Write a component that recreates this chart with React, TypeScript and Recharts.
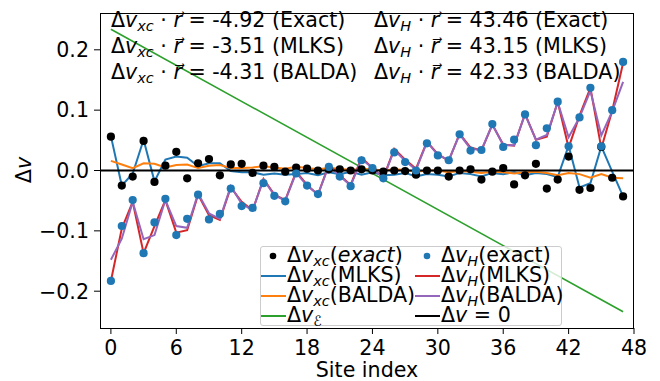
import React from "react";
import {
  ComposedChart,
  Line,
  Scatter,
  XAxis,
  YAxis,
  ReferenceLine,
} from "recharts";

// site index 0..47
const sites = Array.from({ length: 48 }, (_, i) => i);

const xcExact = [
  0.056, -0.025, -0.01, 0.049, -0.019, 0.008, 0.031, -0.013, 0.012, 0.019,
  -0.008, 0.01, 0.011, -0.004, 0.008, 0.006, -0.002, 0.005, 0.003, 0.0,
  0.002, 0.002, 0.0, 0.002, 0.0, -0.002, 0.0, -0.001, -0.007, 0.0,
  0.0, -0.01, 0.0, 0.002, -0.015, -0.002, 0.004, -0.023, -0.008, 0.011,
  -0.03, -0.015, 0.023, -0.032, -0.029, 0.039, -0.012, -0.043,
];

const hExact = [
  -0.183, -0.092, -0.049, -0.137, -0.086, -0.047, -0.107, -0.08, -0.04, -0.081,
  -0.072, -0.03, -0.059, -0.062, -0.021, -0.042, -0.051, -0.005, -0.025, -0.039,
  0.006, -0.01, -0.026, 0.017, 0.004, -0.013, 0.03, 0.014, 0.0, 0.045,
  0.025, 0.017, 0.06, 0.033, 0.034, 0.077, 0.039, 0.051, 0.093, 0.042,
  0.07, 0.114, 0.04, 0.088, 0.137, 0.04, 0.1, 0.18,
];

const xcMlks = [
  0.057, -0.025, -0.005, 0.051, -0.018, 0.018, 0.023, 0.021, 0.007, 0.012,
  0.012, -0.001, -0.003, -0.003, -0.007, -0.005, -0.007, -0.006, -0.004, -0.008,
  -0.003, -0.006, -0.002, -0.007, -0.003, -0.008, -0.007, -0.004, -0.01, -0.006,
  -0.007, -0.01, -0.004, -0.006, -0.01, -0.004, -0.006, -0.003, -0.008, -0.004,
  -0.006, -0.011, 0.041, -0.028, -0.021, 0.04, -0.002, -0.043,
];

const xcBalda = [
  0.016, 0.01, 0.004, 0.012, 0.011, 0.005, 0.009, 0.01, 0.004, 0.008,
  0.009, 0.004, 0.004, 0.005, 0.007, 0.005, 0.003, 0.006, 0.004, 0.002,
  0.004, 0.003, 0.001, 0.003, 0.002, 0.0, 0.002, 0.001, -0.002, 0.0,
  0.0, -0.003, -0.001, -0.002, -0.004, -0.002, -0.003, -0.005, -0.003, -0.002,
  -0.004, -0.008, -0.004, -0.006, -0.012, -0.006, -0.012, -0.013,
];

const hMlks = [
  -0.183, -0.096, -0.052, -0.137, -0.092, -0.049, -0.103, -0.099, -0.04, -0.074,
  -0.082, -0.028, -0.052, -0.066, -0.014, -0.04, -0.049, -0.002, -0.024, -0.04,
  0.01, -0.008, -0.024, 0.021, 0.004, -0.012, 0.036, 0.018, 0.003, 0.048,
  0.027, 0.016, 0.061, 0.038, 0.033, 0.076, 0.043, 0.041, 0.094, 0.051,
  0.056, 0.114, 0.038, 0.091, 0.137, 0.037, 0.099, 0.178,
];

const hBalda = [
  -0.148, -0.113, -0.052, -0.114, -0.107, -0.049, -0.092, -0.095, -0.038, -0.071,
  -0.08, -0.026, -0.055, -0.066, -0.015, -0.041, -0.05, -0.004, -0.025, -0.04,
  0.008, -0.009, -0.025, 0.019, 0.004, -0.013, 0.034, 0.016, 0.001, 0.047,
  0.026, 0.017, 0.06, 0.036, 0.034, 0.076, 0.042, 0.042, 0.093, 0.051,
  0.059, 0.113, 0.055, 0.088, 0.132, 0.058, 0.098, 0.147,
];

// straight field line: only the two ends are plotted
const epsEnds = { 0: 0.234, 47: -0.234 };

const xTicks = [0, 6, 12, 18, 24, 30, 36, 42, 48];
const yTicks = [-0.2, -0.1, 0, 0.1, 0.2];

const C = {
  blue: "#1f77b4",
  orange: "#ff7f0e",
  green: "#2ca02c",
  red: "#d62728",
  purple: "#9467bd",
};

const data = sites.map((s, i) => ({
  site: s,
  xcExact: xcExact[i],
  hExact: hExact[i],
  xcMlks: xcMlks[i],
  xcBalda: xcBalda[i],
  hMlks: hMlks[i],
  hBalda: hBalda[i],
  eps: epsEnds[s] ?? null,
}));

const FONT = "'DejaVu Sans', sans-serif";
const FS = 20.6;

const Sub = ({ children }) => (
  <span
    style={{
      fontSize: "0.7em",
      verticalAlign: "-0.3em",
      lineHeight: 0,
      fontStyle: "italic",
    }}
  >
    {children}
  </span>
);

const Dv = ({ sub }) => (
  <>
    Δ<i>v</i>
    {sub && <Sub>{sub}</Sub>}
  </>
);

const Vec = () => (
  <>
    {" · "}
    <i>r{"\u20D7"}</i>
  </>
);

const annotLeft = ["= -4.92 (Exact)", "= -3.51 (MLKS)", "= -4.31 (BALDA)"];
const annotRight = ["= 43.46 (Exact)", "= 43.15 (MLKS)", "= 42.33 (BALDA)"];

const legendItems = [
  { col: 0, row: 0, kind: "dot", color: "#000", label: <><Dv sub="xc" />(<i>exact</i>)</> },
  { col: 0, row: 1, kind: "line", color: C.blue, label: <><Dv sub="xc" />(MLKS)</> },
  { col: 0, row: 2, kind: "line", color: C.orange, label: <><Dv sub="xc" />(BALDA)</> },
  { col: 0, row: 3, kind: "line", color: C.green, label: <Dv sub={"\u2130"} /> },
  { col: 1, row: 0, kind: "dot", color: C.blue, label: <><Dv sub="H" />(exact)</> },
  { col: 1, row: 1, kind: "line", color: C.red, label: <><Dv sub="H" />(MLKS)</> },
  { col: 1, row: 2, kind: "line", color: C.purple, label: <><Dv sub="H" />(BALDA)</> },
  { col: 1, row: 3, kind: "line", color: "#000", label: <><Dv /> = 0</> },
];

const colX = [261, 415];
const rowY = [255, 275, 295, 315];

const dotShape = (color) => (p) =>
  p.cx == null ? null : <circle cx={p.cx} cy={p.cy} r={4.1} fill={color} />;

const fmtY = (v) => (v < 0 ? "\u2212" : "") + Math.abs(v).toFixed(1);

export default function App() {
  return (
    <div
      style={{
        position: "relative",
        width: 660,
        height: 381,
        fontFamily: FONT,
        fontSize: FS,
        color: "#000",
        background: "#fff",
        overflow: "hidden",
      }}
    >
      <style>{"body{margin:0}"}</style>
      <ComposedChart
        width={660}
        height={381}
        data={data}
        margin={{ top: 13, right: 26, bottom: 0, left: 0 }}
      >
        <XAxis
          dataKey="site"
          type="number"
          domain={[-1, 48]}
          ticks={xTicks}
          axisLine={false}
          tickSize={6}
          tickMargin={6}
          height={53}
          tickLine={{ stroke: "#000" }}
          tick={{ fill: "#000", fontSize: FS, fontFamily: FONT }}
        />
        <YAxis
          type="number"
          domain={[-0.261, 0.261]}
          ticks={yTicks}
          allowDataOverflow
          axisLine={false}
          width={100}
          tickSize={6}
          tickMargin={5}
          tickFormatter={fmtY}
          tickLine={{ stroke: "#000" }}
          tick={{ fill: "#000", fontSize: FS, fontFamily: FONT }}
        />
        <Scatter dataKey="xcExact" shape={dotShape("#000")} isAnimationActive={false} />
        <Scatter dataKey="hExact" shape={dotShape(C.blue)} isAnimationActive={false} />
        <Line dataKey="xcMlks" stroke={C.blue} strokeWidth={2} dot={false} type="linear" isAnimationActive={false} />
        <Line dataKey="xcBalda" stroke={C.orange} strokeWidth={2} dot={false} type="linear" isAnimationActive={false} />
        <Line dataKey="eps" stroke={C.green} strokeWidth={1.6} dot={false} type="linear" connectNulls isAnimationActive={false} />
        <Line dataKey="hMlks" stroke={C.red} strokeWidth={2} dot={false} type="linear" isAnimationActive={false} />
        <Line dataKey="hBalda" stroke={C.purple} strokeWidth={2} dot={false} type="linear" isAnimationActive={false} />
        <ReferenceLine y={0} stroke="#000" strokeWidth={2} />
      </ComposedChart>

      {/* axes frame */}
      <div
        style={{
          position: "absolute",
          left: 100,
          top: 13,
          width: 534,
          height: 316,
          border: "1px solid #000",
          boxSizing: "border-box",
          pointerEvents: "none",
        }}
      />

      {/* annotation text */}
      {annotLeft.map((t, i) => (
        <div key={"l" + i} style={{ position: "absolute", left: 111, top: 7 + i * 26, lineHeight: "26px", whiteSpace: "nowrap" }}>
          <Dv sub="xc" />
          <Vec /> {t}
        </div>
      ))}
      {annotRight.map((t, i) => (
        <div key={"r" + i} style={{ position: "absolute", left: 374, top: 7 + i * 26, lineHeight: "26px", whiteSpace: "nowrap" }}>
          <Dv sub="H" />
          <Vec /> {t}
        </div>
      ))}

      {/* legend */}
      <div
        style={{
          position: "absolute",
          left: 260,
          top: 246,
          width: 302,
          height: 80,
          border: "1px solid #cccccc",
          borderRadius: 3,
          background: "rgba(255,255,255,0.8)",
          boxSizing: "border-box",
        }}
      />
      <svg width={660} height={381} style={{ position: "absolute", left: 0, top: 0, pointerEvents: "none" }}>
        {legendItems.map((it, k) => {
          const x0 = colX[it.col];
          const y = rowY[it.row] + 1;
          return it.kind === "dot" ? (
            <circle key={k} cx={x0 + 12} cy={y} r={3.3} fill={it.color} />
          ) : (
            <line key={k} x1={x0} x2={x0 + 25} y1={y} y2={y} stroke={it.color} strokeWidth={2} />
          );
        })}
        <text x={367} y={377} textAnchor="middle" fontFamily={FONT} fontSize={FS}>
          Site index
        </text>
      </svg>
      {legendItems.map((it, k) => (
        <div
          key={k}
          style={{
            position: "absolute",
            left: colX[it.col] + 26,
            top: rowY[it.row] - 10,
            lineHeight: "20px",
            whiteSpace: "nowrap",
          }}
        >
          {it.label}
        </div>
      ))}

      <div
        style={{
          position: "absolute",
          left: 24,
          top: 170,
          lineHeight: "24px",
          transform: "translate(-50%, -50%) rotate(-90deg)",
          whiteSpace: "nowrap",
        }}
      >
        <Dv />
      </div>
    </div>
  );
}
